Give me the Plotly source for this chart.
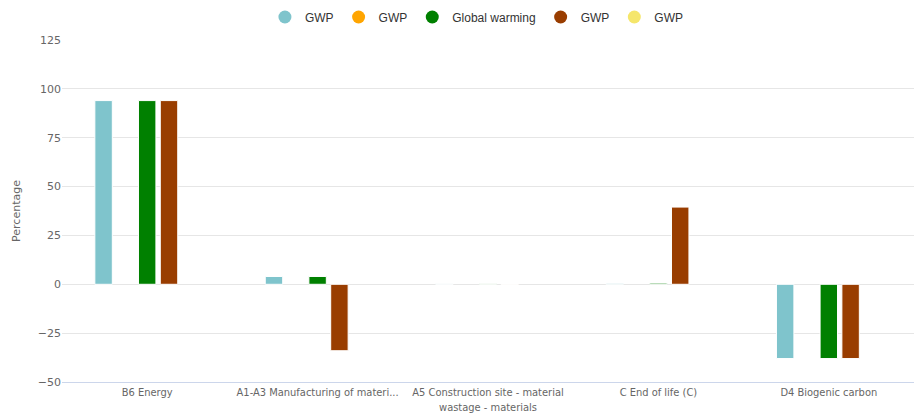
import plotly.graph_objects as go

categories = ["B6 Energy", "A1-A3 Manufacturing of materi...", "A5 Construction site - material<br>wastage - materials",
              "C End of life (C)", "D4 Biogenic carbon"]
series_names = ["GWP", "GWP", "Global warming", "GWP", "GWP"]
series_colors = ["#7fc4cc", "#ffa500", "#008000", "#993d00", "#f5e66b"]
s1 = [94, 4, 0.2, 0.5, -38]
s2 = [None, None, None, None, None]
s3 = [94, 4, 0.2, 0.6, -38]
s4 = [94, -34, -0.2, 39.5, -38]
s5 = [None, None, None, None, None]
series_values = [s1, s2, s3, s4, s5]
y_ticks = [-50, -25, 0, 25, 50, 75, 100, 125]

fig = go.Figure()
for name, color, vals in zip(series_names, series_colors, series_values):
    fig.add_trace(go.Bar(x=categories, y=vals, name=name, marker=dict(color=color, line=dict(color="white", width=1)),
                         showlegend=False))
for name, color in zip(series_names, series_colors):
    fig.add_trace(go.Scatter(x=[None], y=[None], mode="markers", name=name,
                             marker=dict(color=color, size=13, symbol="circle")))

fig.update_layout(
    width=916, height=414,
    margin=dict(l=62, r=2, t=40, b=32, autoexpand=False),
    paper_bgcolor="white", plot_bgcolor="white",
    barmode="group", bargap=0.36, bargroupgap=0.2,
    font=dict(family="DejaVu Sans", color="#666666", size=11),
    legend=dict(orientation="h", x=0.487, xanchor="center", y=0.959, yanchor="middle", yref="container",
                font=dict(family="Liberation Sans", size=12, color="#333333"), itemwidth=30,
                tracegroupgap=0),
    xaxis=dict(showgrid=False, showline=True, linecolor="#ccd6eb", linewidth=1, ticks="",
               tickfont=dict(family="DejaVu Sans Condensed", size=11, color="#666666"), fixedrange=True),
    yaxis=dict(range=[-50, 125], tickvals=y_ticks, showgrid=True, gridcolor="#e6e6e6", gridwidth=1,
               zeroline=False, ticks="", showline=False,
               tickfont=dict(family="DejaVu Sans", size=11, color="#666666"),
               title=dict(text="Percentage", font=dict(size=11, color="#666666"), standoff=14)),
)
fig.write_html("out.html")
